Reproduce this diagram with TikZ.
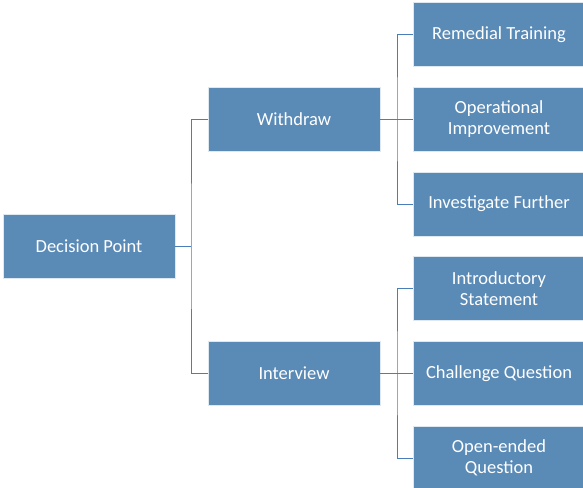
\documentclass[tikz,border=0pt]{standalone}
\usepackage{fontspec}
\setmainfont{Carlito}
\definecolor{boxfill}{HTML}{5A8AB6}
\definecolor{linecol}{HTML}{4A7EBB}
\begin{document}
\begin{tikzpicture}[x=1pt,y=-1pt,
  box/.style={fill=boxfill,draw=white!80!boxfill,line width=0.8pt,minimum width=172pt,minimum height=64pt,
    text=white,font=\fontsize{18.5}{21}\selectfont,align=center,inner sep=0pt,anchor=center},
  conn/.style={draw=linecol,line width=0.9pt}]
\useasboundingbox (0,0) rectangle (583,487);
\node[box] (dp) at (89,246) {Decision Point};
\node[box] (wd) at (294,119) {Withdraw};
\node[box] (iv) at (294,373) {Interview};
\node[box] (rt) at (499,34.5) {Remedial Training};
\node[box] (oi) at (499,119) {Operational\\Improvement};
\node[box] (if) at (499,204) {Investigate Further};
\node[box] (is) at (499,288.5) {Introductory\\Statement};
\node[box] (cq) at (499,373.5) {Challenge Question};
\node[box] (oq) at (499,458) {Open-ended\\Question};
\coordinate (j1) at (191,0);
\coordinate (j2) at (397,0);
\draw[conn] (dp.east) -- (dp.east -| j1);
\draw[conn] (wd.west) -| (dp.east -| j1) |- (iv.west);
\draw[conn] (wd.east) -- (oi.west);
\draw[conn] (rt.west) -| (wd.east -| j2) |- (if.west);
\draw[conn] (is.west) -| (iv.east -| j2) |- (oq.west);
\draw[conn] (iv.east) -- (iv.east -| cq.west);
\end{tikzpicture}
\end{document}
